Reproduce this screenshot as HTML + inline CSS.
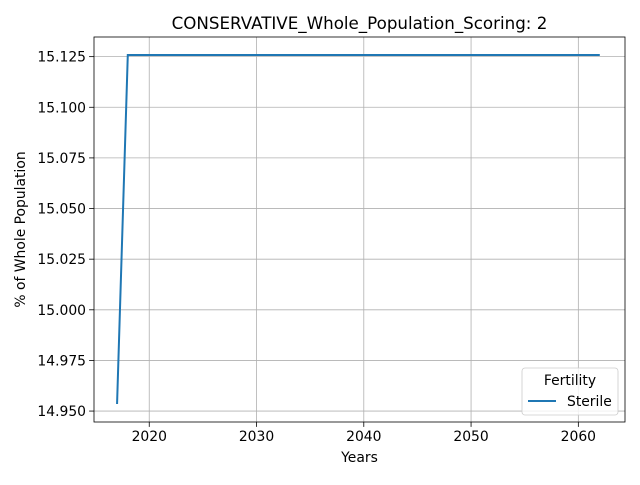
<!DOCTYPE html>
<html><head><meta charset="utf-8"><style>
body{margin:0;background:#fff;font-family:"Liberation Sans","DejaVu Sans",sans-serif}
svg text{font-family:"DejaVu Sans","Liberation Sans",sans-serif}
</style></head><body>
<svg id="chart" width="640" height="480" viewBox="0 0 640 480" xmlns="http://www.w3.org/2000/svg"></svg>
<script>
const years = [2017,2018,2019,2020,2021,2022,2023,2024,2025,2026,2027,2028,2029,2030,2031,2032,2033,2034,2035,2036,2037,2038,2039,2040,2041,2042,2043,2044,2045,2046,2047,2048,2049,2050,2051,2052,2053,2054,2055,2056,2057,2058,2059,2060,2061,2062];
const sterileValues = [14.9535].concat(new Array(45).fill(15.1258));
const xTicks = [2020,2030,2040,2050,2060];
const yTicks = [14.950,14.975,15.000,15.025,15.050,15.075,15.100,15.125];

const L=94,R=625,T=37,B=422;
const x0=2014.85,x1=2064.35,y0=14.9446,y1=15.1347;
const sx=v=>L+(v-x0)/(x1-x0)*(R-L);
const sy=v=>B-(v-y0)/(y1-y0)*(B-T);
const svg=document.getElementById('chart');
const NS='http://www.w3.org/2000/svg';
function add(tag,attrs,parent){const e=document.createElementNS(NS,tag);for(const k in attrs)e.setAttribute(k,attrs[k]);(parent||svg).appendChild(e);return e;}

xTicks.forEach(t=>{
  const g=add('line',{x1:sx(t),x2:sx(t),y1:T,y2:B,stroke:'#b0b0b0','stroke-width':0.8});
  
  
  add('line',{x1:sx(t),x2:sx(t),y1:B,y2:B+4.9,stroke:'#000','stroke-width':0.8});
  const tx=add('text',{x:sx(t),y:B+19,'font-size':13.9,'text-anchor':'middle'});
  tx.textContent=t;
  
  
});
yTicks.forEach(t=>{
  const g=add('line',{x1:L,x2:R,y1:sy(t),y2:sy(t),stroke:'#b0b0b0','stroke-width':0.8});
  
  
  add('line',{x1:L-4.9,x2:L,y1:sy(t),y2:sy(t),stroke:'#000','stroke-width':0.8});
  const tx=add('text',{x:L-8,y:sy(t)+5,'font-size':13.9,'text-anchor':'end'});
  tx.textContent=t.toFixed(3);
  
  
});
const pts=years.map((y,i)=>sx(y).toFixed(2)+','+sy(sterileValues[i]).toFixed(2)).join(' ');
const line=add('polyline',{points:pts,fill:'none',stroke:'#1f77b4','stroke-width':2});


const frame=add('rect',{x:L,y:T,width:R-L,height:B-T,fill:'none',stroke:'#000','stroke-width':0.8});


const title=add('text',{x:(L+R)/2,y:T-8,'font-size':16.7,'text-anchor':'middle'});
title.textContent='CONSERVATIVE_Whole_Population_Scoring: 2';


const xl=add('text',{x:(L+R)/2,y:462,'font-size':13.9,'text-anchor':'middle'});
xl.textContent='Years';


const yl=add('text',{x:25,y:(T+B)/2,'font-size':13.9,'text-anchor':'middle',transform:'rotate(-90 25 '+((T+B)/2)+')'});
yl.textContent='% of Whole Population';


const lg=add('g',{});


add('rect',{x:522,y:368,width:96,height:47,rx:3,fill:'#fff','fill-opacity':0.8,stroke:'#ccc','stroke-width':0.8},lg);
const lt=add('text',{x:570,y:385,'font-size':13.9,'text-anchor':'middle'},lg);
lt.textContent='Fertility';
add('line',{x1:528,x2:556,y1:401,y2:401,stroke:'#1f77b4','stroke-width':2},lg);
const le=add('text',{x:567,y:406,'font-size':13.9},lg);
le.textContent='Sterile';


</script>
</body></html>
